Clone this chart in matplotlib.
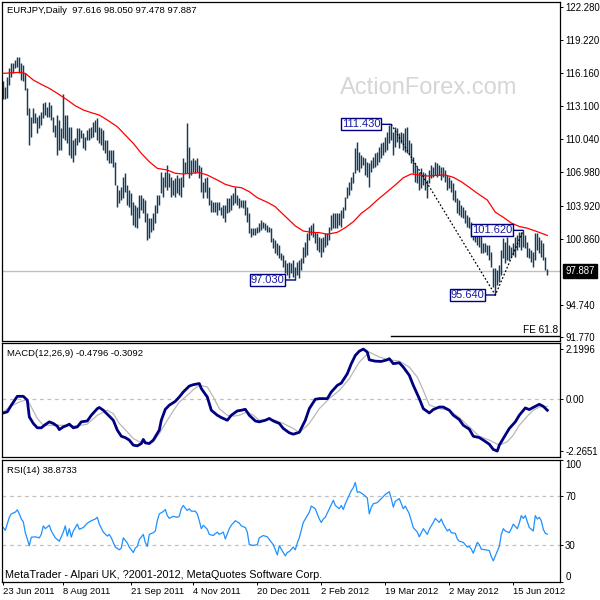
import matplotlib
matplotlib.use("Agg")
import matplotlib.pyplot as plt
from matplotlib.transforms import blended_transform_factory

plt.rcParams["font.family"] = ["Liberation Sans", "DejaVu Sans"]
plt.rcParams["font.size"] = 6.8

# ---- values ----
bar_high = [
    115.46, 114.91, 115.81, 116.64, 117.10, 117.10, 117.38, 117.66, 117.66, 117.10,
    116.92, 116.18, 114.79, 112.94, 112.11, 112.94, 112.48, 112.11, 112.30, 112.57,
    113.40, 113.50, 113.03, 113.50, 113.22, 112.11, 111.37, 112.30, 111.83, 111.09,
    114.23, 112.30, 112.30, 111.18, 111.18, 109.98, 110.17, 111.09, 111.09, 110.91,
    110.63, 110.26, 110.91, 111.09, 111.18, 111.65, 111.83, 112.02, 111.18, 111.09,
    110.91, 109.98, 109.98, 109.06, 109.06, 109.06, 107.95, 105.82, 105.36, 105.63,
    106.56, 106.93, 105.82, 105.36, 105.08, 104.25, 103.97, 103.78, 104.89, 104.89,
    104.61, 104.43, 103.23, 102.77, 102.77, 103.23, 103.97, 104.89, 104.89, 107.02,
    106.56, 107.02, 107.67, 106.93, 106.56, 106.28, 106.47, 106.74, 106.47, 106.56,
    108.32, 107.95, 111.55, 109.33, 108.13, 108.32, 108.13, 108.32, 107.67, 107.48,
    106.10, 106.47, 106.56, 105.63, 104.43, 104.25, 104.25, 104.25, 104.25, 103.78,
    103.97, 103.97, 104.61, 104.61, 104.89, 105.08, 105.63, 104.89, 104.61, 104.43,
    104.43, 104.43, 103.78, 103.23, 101.84, 101.84, 101.84, 101.93, 102.30, 102.58,
    102.40, 102.30, 102.12, 101.93, 101.84, 100.92, 100.73, 100.45, 100.27, 99.53,
    99.34, 98.88, 98.60, 98.70, 98.60, 98.88, 98.23, 98.70, 98.88, 99.07,
    100.08, 100.55, 101.38, 101.93, 102.12, 102.30, 101.47, 101.38, 101.01, 100.92,
    101.01, 101.38, 101.38, 101.93, 103.04, 103.23, 103.23, 103.23, 103.23, 103.51,
    103.78, 104.71, 105.63, 106.10, 106.56, 107.02, 109.24, 109.80, 108.87, 108.60,
    108.41, 108.32, 107.95, 107.85, 108.13, 108.41, 108.78, 108.87, 109.33, 109.70,
    109.80, 110.26, 110.72, 111.37, 111.43, 110.72, 111.18, 111.09, 110.63, 110.72,
    110.63, 111.09, 111.18, 109.98, 109.70, 108.41, 107.85, 107.48, 107.02, 107.39,
    107.02, 106.93, 106.28, 107.21, 107.67, 107.48, 107.95, 107.85, 107.67, 107.48,
    107.48, 107.21, 106.74, 106.56, 106.28, 106.00, 105.36, 104.61, 104.43, 103.97,
    103.78, 103.51, 103.04, 102.86, 102.40, 101.93, 101.84, 101.84, 101.38, 101.19,
    100.45, 100.45, 100.27, 100.27, 99.62, 98.14, 98.14, 97.95, 98.42, 99.81,
    100.92, 100.55, 101.01, 100.27, 100.08, 100.45, 101.01, 101.19, 101.47, 101.47,
    101.62, 101.19, 100.55, 99.99, 99.81, 99.62, 101.38, 101.38, 101.01, 100.73,
    100.45, 99.16, 98.05,
]
bar_low = [
    113.75, 113.75, 113.87, 115.07, 115.81, 116.18, 116.64, 116.73, 116.18, 115.53,
    115.44, 114.61, 112.30, 109.52, 110.26, 111.55, 111.55, 110.63, 111.09, 111.37,
    112.02, 112.30, 112.11, 112.11, 111.83, 110.72, 110.26, 108.60, 109.06, 109.06,
    110.17, 109.98, 109.70, 108.60, 108.32, 107.95, 108.60, 109.52, 109.80, 110.17,
    109.24, 109.06, 109.98, 109.98, 110.17, 110.26, 110.72, 109.98, 109.70, 109.52,
    109.06, 108.78, 108.14, 107.85, 107.85, 107.48, 105.82, 103.78, 104.15, 104.43,
    104.61, 105.17, 103.97, 103.78, 103.04, 102.12, 101.93, 101.84, 102.77, 103.51,
    103.23, 102.40, 100.73, 100.92, 101.47, 101.66, 102.30, 103.23, 103.97, 105.08,
    104.71, 105.63, 105.36, 105.63, 104.71, 104.89, 104.71, 105.08, 104.89, 104.71,
    105.63, 106.93, 106.93, 106.47, 106.74, 107.02, 106.93, 107.02, 106.47, 105.17,
    104.61, 105.17, 104.61, 103.97, 103.32, 103.32, 103.32, 103.04, 103.51, 103.04,
    102.77, 102.40, 103.23, 103.32, 103.51, 103.97, 104.15, 103.97, 103.69, 103.78,
    103.69, 103.04, 102.40, 101.38, 101.01, 101.19, 101.19, 101.38, 101.47, 101.66,
    101.84, 101.66, 101.47, 101.47, 100.55, 99.99, 99.53, 99.34, 99.07, 98.88,
    98.23, 97.68, 97.49, 97.21, 97.68, 97.31, 97.03, 97.49, 97.21, 97.95,
    98.60, 99.16, 99.34, 100.73, 101.19, 101.01, 100.45, 99.81, 99.62, 99.16,
    99.62, 100.08, 100.27, 100.73, 101.66, 101.84, 101.84, 101.84, 102.12, 101.93,
    102.77, 103.51, 104.61, 104.89, 105.36, 106.00, 106.93, 107.21, 107.02, 107.39,
    107.67, 106.74, 106.56, 105.63, 107.02, 107.39, 107.48, 107.67, 107.95, 108.32,
    108.60, 108.87, 109.06, 109.70, 109.98, 108.60, 109.33, 109.80, 109.24, 109.70,
    109.06, 108.87, 108.78, 108.60, 107.85, 106.93, 106.10, 106.00, 105.36, 105.54,
    105.82, 105.36, 104.61, 106.00, 106.47, 106.56, 106.74, 106.56, 106.74, 106.28,
    106.56, 106.10, 105.36, 105.54, 105.17, 104.43, 104.25, 103.23, 103.04, 102.86,
    102.77, 102.30, 101.93, 101.84, 101.01, 100.73, 100.55, 100.27, 100.08, 99.53,
    99.53, 99.62, 99.34, 98.88, 98.23, 96.38, 95.64, 96.57, 96.85, 97.49,
    99.07, 98.60, 98.88, 98.88, 99.16, 99.34, 99.16, 99.81, 100.08, 99.81,
    100.08, 99.99, 99.16, 99.07, 98.70, 98.23, 98.88, 99.81, 99.53, 99.16,
    98.88, 97.95, 97.478,
]

ma_bar = [0, 8, 11, 15, 19, 23, 27, 32, 36, 40, 44, 48, 52, 57, 61, 65, 69, 73,
          77, 82, 86, 90, 94, 98, 102, 107, 111, 115, 119, 123, 127, 132, 136, 138,
          142, 146, 150, 154, 158, 162, 167, 171, 175, 179, 183, 187, 192, 196, 200,
          204, 208, 212, 217, 221, 225, 229, 233, 237, 242, 246, 250, 254, 258, 262,
          267, 272]
ma_val = [116.15, 116.24, 116.15, 115.53, 115.13, 114.76, 114.30, 113.68, 113.15,
          112.76, 112.51, 112.29, 111.83, 111.21, 110.44, 109.67, 108.75, 107.97,
          107.36, 107.20, 106.90, 106.84, 106.90, 106.96, 106.74, 106.28, 105.88,
          105.66, 105.57, 105.20, 104.64, 104.22, 103.81, 103.44, 102.74, 102.03,
          101.56, 101.44, 101.41, 101.26, 101.44, 101.87, 102.42, 103.20, 103.75,
          104.43, 105.20, 105.82, 106.49, 106.84, 106.74, 106.65, 106.71, 106.74,
          106.53, 106.12, 105.60, 105.05, 104.43, 103.30, 102.83, 102.30, 101.98,
          101.82, 101.50, 101.15]

macd_bar = [0, 2, 4, 7, 10, 12, 13, 15, 17, 19, 21, 23, 25, 27, 28, 30, 32, 33, 35,
            37, 39, 42, 44, 47, 48, 50, 53, 55, 57, 59, 61, 63, 65, 67, 69, 70, 71,
            73, 75, 78, 79, 81, 83, 86, 88, 90, 93, 95, 98, 99, 102, 104, 107, 109,
            112, 114, 117, 119, 121, 123, 126, 128, 131, 133, 135, 138, 140, 143, 145,
            148, 151, 153, 156, 158, 162, 164, 167, 169, 172, 174, 176, 178, 180, 182,
            183, 186, 189, 192, 193, 195, 198, 200, 203, 205, 208, 210, 213, 215, 218,
            220, 223, 225, 228, 230, 233, 235, 238, 240, 243, 245, 247, 248, 251, 253,
            256, 258, 261, 263, 266, 268, 270, 272]
macd_val = [-0.60, -0.55, -0.26, 0.13, 0.13, -0.04, -0.77, -1.06, -1.25, -1.25,
            -1.11, -0.99, -1.06, -1.18, -1.33, -1.21, -1.14, -1.09, -1.25, -1.21,
            -0.99, -0.95, -0.70, -0.41, -0.36, -0.48, -0.74, -0.92, -1.35, -1.62,
            -1.68, -1.79, -2.01, -2.04, -1.94, -1.76, -1.91, -1.94, -1.79, -1.35,
            -0.92, -0.44, -0.26, -0.09, 0.10, 0.32, 0.58, 0.64, 0.69, 0.47, 0.10,
            -0.48, -0.70, -0.80, -0.92, -0.70, -0.51, -0.48, -0.44, -0.70, -0.95,
            -0.99, -0.92, -0.84, -0.95, -1.06, -1.28, -1.47, -1.53, -1.45, -0.92,
            -0.41, 0.00, 0.03, 0.03, 0.32, 0.61, 0.71, 1.12, 1.56, 1.92, 2.11, 2.20,
            2.07, 1.73, 1.67, 1.66, 1.73, 1.78, 1.56, 1.60, 1.41, 1.05, 0.61, 0.03,
            -0.41, -0.60, -0.45, -0.34, -0.34, -0.48, -0.70, -0.89, -1.14, -1.31,
            -1.62, -1.68, -1.79, -1.97, -2.20, -2.27, -2.01, -1.57, -1.28, -0.99,
            -0.70, -0.38, -0.45, -0.31, -0.22, -0.31, -0.48]

sig_bar = [0, 3, 8, 12, 14, 17, 20, 25, 30, 37, 42, 47, 52, 55, 58, 62, 65, 68, 72,
           75, 78, 82, 85, 88, 92, 95, 98, 102, 105, 108, 112, 115, 118, 122, 125,
           128, 132, 135, 140, 145, 148, 153, 158, 163, 168, 173, 178, 183, 188, 193,
           198, 203, 207, 210, 213, 218, 223, 228, 233, 238, 243, 248, 252, 255, 258,
           262, 265, 268, 272]
sig_val = [-0.55, -0.34, -0.12, -0.01, -0.34, -0.84, -1.14, -1.14, -1.14, -1.17,
           -1.09, -0.70, -0.48, -0.63, -1.06, -1.43, -1.72, -1.86, -1.91, -1.86,
           -1.50, -0.92, -0.51, -0.12, 0.17, 0.42, 0.61, 0.54, 0.10, -0.41, -0.70,
           -0.74, -0.70, -0.55, -0.70, -0.92, -0.89, -0.89, -1.06, -1.28, -1.47,
           -1.06, -0.41, 0.03, 0.39, 0.90, 1.63, 2.07, 1.85, 1.73, 1.67, 1.41, 0.97,
           0.39, -0.25, -0.41, -0.48, -0.80, -1.21, -1.62, -1.79, -2.01, -1.86,
           -1.57, -1.14, -0.74, -0.48, -0.34, -0.31]

rsi_bar = [0, 1, 3, 4, 6, 7, 8, 9, 10, 11, 12, 13, 14, 16, 18, 19, 20, 21, 23, 24,
           26, 28, 30, 31, 32, 33, 34, 35, 37, 38, 40, 42, 44, 46, 47, 48, 50, 52,
           53, 54, 56, 58, 59, 60, 62, 63, 65, 66, 67, 68, 70, 71, 72, 73, 75, 76,
           77, 78, 80, 81, 82, 83, 85, 87, 88, 89, 90, 91, 92, 93, 94, 96, 97, 98,
           99, 100, 102, 103, 105, 107, 108, 110, 111, 113, 114, 116, 118, 119, 121,
           122, 123, 125, 127, 128, 130, 132, 133, 135, 136, 137, 138, 139, 141, 142,
           143, 145, 146, 147, 148, 150, 151, 153, 154, 156, 158, 159, 160, 161, 163,
           164, 165, 166, 168, 169, 170, 171, 173, 174, 175, 176, 177, 178, 180, 182,
           183, 184, 185, 187, 189, 191, 193, 194, 195, 196, 198, 199, 200, 201, 203,
           204, 205, 207, 208, 209, 210, 212, 213, 215, 216, 218, 219, 220, 222, 223,
           224, 226, 227, 228, 230, 232, 233, 234, 235, 237, 238, 239, 241, 243, 244,
           245, 246, 248, 249, 250, 251, 253, 254, 255, 257, 258, 259, 260, 261, 263,
           264, 265, 266, 267, 268, 269, 270, 271, 272]
rsi_val = [44.3, 42.0, 52.7, 55.5, 56.9, 58.8, 55.5, 51.3, 49.0, 40.1, 35.0, 29.4,
           36.4, 36.7, 35.9, 38.7, 45.7, 43.4, 46.2, 41.5, 35.9, 33.1, 40.6, 45.7,
           37.3, 43.4, 36.4, 41.5, 47.1, 42.9, 44.3, 47.9, 49.9, 51.3, 52.7, 47.1,
           40.6, 37.3, 38.7, 35.9, 28.3, 26.1, 27.5, 35.9, 31.7, 28.3, 23.9, 27.5,
           28.9, 34.5, 38.7, 32.2, 28.9, 38.7, 40.1, 41.5, 49.9, 55.5, 57.4, 59.1,
           54.1, 51.8, 53.5, 52.7, 53.5, 59.7, 62.4, 60.2, 58.3, 59.7, 57.7, 57.7,
           55.5, 49.9, 43.4, 46.2, 42.9, 38.7, 37.8, 40.6, 38.7, 40.6, 35.0, 43.4,
           46.2, 49.9, 47.9, 45.7, 44.3, 40.6, 30.3, 29.7, 30.3, 35.9, 37.8, 36.7,
           34.5, 30.3, 26.1, 21.9, 29.4, 26.6, 21.1, 23.9, 24.7, 28.3, 26.1, 31.7,
           35.9, 48.5, 51.3, 56.9, 61.9, 59.7, 51.3, 48.5, 51.3, 52.7, 59.7, 63.0,
           66.6, 62.4, 59.7, 62.4, 59.1, 63.8, 70.8, 74.5, 77.0, 81.2, 73.1, 73.6,
           71.4, 68.6, 55.5, 61.0, 63.8, 64.7, 68.0, 71.4, 73.6, 68.0, 61.0, 65.8,
           68.0, 63.8, 59.7, 61.9, 55.5, 49.9, 44.3, 40.6, 36.7, 40.1, 43.4, 38.7,
           42.9, 48.5, 51.8, 48.5, 51.3, 47.1, 41.5, 42.9, 40.1, 39.6, 35.0, 33.1,
           32.2, 28.3, 28.9, 26.6, 23.3, 32.2, 30.3, 26.6, 26.1, 25.5, 20.5, 17.1,
           21.1, 28.9, 38.7, 43.4, 41.5, 40.1, 43.4, 47.1, 43.4, 47.9, 54.1, 51.8,
           54.1, 44.3, 42.9, 41.5, 54.1, 51.3, 52.7, 49.9, 42.9, 39.6, 38.9]

price_ticks = [91.77, 94.74, 100.86, 103.92, 106.98, 110.04, 113.10, 116.16, 119.22, 122.28]
macd_ticks = [-2.2651, 0.0, 2.1996]
macd_tick_labels = ["-2.2651", "0.00", "2.1996"]
rsi_ticks = [0, 30, 70, 100]
date_bars = [0, 30, 64, 95, 127, 159, 191, 223, 255]
date_labels = ["23 Jun 2011", "8 Aug 2011", "21 Sep 2011", "4 Nov 2011", "20 Dec 2011",
               "2 Feb 2012", "19 Mar 2012", "2 May 2012", "15 Jun 2012"]
last_close = 97.887
swing_bar = [194, 246, 260]
swing_val = [111.43, 95.64, 101.62]
dip_bar, dip_val = 146, 97.03
fe_level = 91.86

BAR_C = "#133b5a"
NAVY = "#000080"
W = H = 600
X0, X1 = -0.65, 278.35

fig = plt.figure(figsize=(6, 6), dpi=100)
fig.patch.set_facecolor("white")


def panel(top, bottom):
    ax = fig.add_axes([2 / W, 1 - bottom / H, 558 / W, (bottom - top) / H])
    ax.set_xlim(X0, X1)
    for sp in ax.spines.values():
        sp.set_linewidth(0.9)
        sp.set_color("black")
    ax.tick_params(axis="y", left=False, right=True, labelleft=False, labelright=True,
                   direction="out", length=2.2, width=0.7, pad=1.5, labelsize=6.9)
    ax.tick_params(axis="x", bottom=False, labelbottom=False)
    return ax


# ---- price panel ----
ax_p = panel(2, 340.5)
ax_p.set_ylim(91.43, 122.75)
ax_p.set_yticks(price_ticks, labels=[f"{v:.3f}" for v in price_ticks])
ax_p.text(0.765, 0.746, "ActionForex.com", transform=ax_p.transAxes, fontsize=17,
          color="#d6d6d6", ha="center", va="center", zorder=0)
ax_p.axhline(last_close, color="#c0c0c0", lw=1, zorder=1)
ax_p.vlines(range(len(bar_high)), bar_low, bar_high, color=BAR_C, lw=1.05, zorder=2)
ax_p.plot(ma_bar, ma_val, color="#ff0000", lw=0.9, zorder=3)
ax_p.plot(swing_bar, swing_val, color="black", lw=0.9, ls=(0, (1.4, 1.6)), zorder=3)
ax_p.plot([swing_bar[0], X1], [fe_level, fe_level], color="black", lw=1.0, zorder=3)
ax_p.annotate("FE 61.8", xy=(277.4, fe_level), xytext=(0, 1), textcoords="offset pixels",
              ha="right", va="bottom", fontsize=7.2)


def tag(bar, val, text):
    ax_p.annotate(text, xy=(bar, val), xytext=(-11, 0), textcoords="offset pixels",
                  ha="right", va="center", color="#1a1aa6", fontsize=8, zorder=5,
                  bbox=dict(boxstyle="square,pad=0.08", fc="white", ec=NAVY, lw=1),
                  arrowprops=dict(arrowstyle="-", color=NAVY, lw=1, shrinkA=0, shrinkB=0))


tag(swing_bar[0], swing_val[0], "111.430")
tag(dip_bar, dip_val, "97.030")
tag(swing_bar[1], swing_val[1], "95.640")
tag(swing_bar[2], swing_val[2], "101.620")

trans = blended_transform_factory(ax_p.transAxes, ax_p.transData)
ax_p.text(1.0095, last_close, f"{last_close:.3f}", transform=trans, color="white",
          ha="left", va="center", fontsize=6.9,
          bbox=dict(boxstyle="square,pad=0.2", fc="black", ec="black"))
ax_p.text(0.009, 0.976, "EURJPY,Daily  97.616 98.050 97.478 97.887",
          transform=ax_p.transAxes, ha="left", va="center", fontsize=6.8)

# ---- MACD panel ----
ax_m = panel(342.7, 457)
ax_m.set_ylim(-2.53, 2.48)
ax_m.set_yticks(macd_ticks, labels=macd_tick_labels)
ax_m.axhline(0, color="#c0c0c0", lw=0.9, ls=(0, (3, 3)))
ax_m.plot(sig_bar, sig_val, color="#b8b8b8", lw=0.9)
ax_m.plot(macd_bar, macd_val, color=NAVY, lw=2.0, solid_joinstyle="round")
ax_m.text(0.009, 0.905, "MACD(12,26,9) -0.4796 -0.3092", transform=ax_m.transAxes,
          ha="left", va="center", fontsize=6.8)

# ---- RSI panel ----
ax_r = panel(459.5, 581.7)
ax_r.set_ylim(0, 100)
ax_r.set_yticks(rsi_ticks, labels=[str(v) for v in rsi_ticks])
for lab in ax_r.get_yticklabels():
    if lab.get_text() == "100":
        lab.set_va("top")
    elif lab.get_text() == "0":
        lab.set_va("bottom")
for lvl in (30, 70):
    ax_r.axhline(lvl, color="#c0c0c0", lw=0.9, ls=(0, (3, 3)))
ax_r.plot(rsi_bar, rsi_val, color="#1e90ff", lw=0.9)
ax_r.text(0.009, 0.914, "RSI(14) 38.8733", transform=ax_r.transAxes,
          ha="left", va="center", fontsize=6.8)
ax_r.text(0.005, 0.055, "MetaTrader - Alpari UK, ?2001-2012, MetaQuotes Software Corp.",
          transform=ax_r.transAxes, ha="left", va="center", fontsize=7.8)
ax_r.set_xticks(date_bars, labels=date_labels)
ax_r.tick_params(axis="x", bottom=True, labelbottom=True, direction="out",
                 length=2.5, width=0.7, pad=1.5, labelsize=6.8)
for lab in ax_r.get_xticklabels():
    lab.set_ha("left")

fig.savefig("out.png", dpi=100, facecolor="white")
